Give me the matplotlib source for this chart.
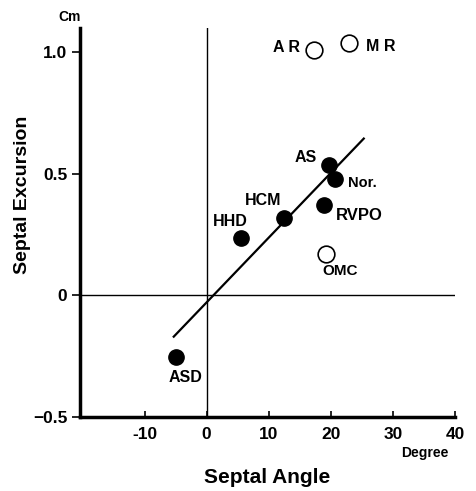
import matplotlib.pyplot as plt
import numpy as np

plt.rcParams['font.family'] = ['Liberation Sans', 'DejaVu Sans']
plt.rcParams['font.weight'] = 'bold'

# filled points (disease groups on the regression)
filled_names = ['AS', 'Nor.', 'RVPO', 'HCM', 'HHD', 'ASD']
filled_x = [19.7, 20.6, 18.9, 12.4, 5.6, -5.0]
filled_y = [0.535, 0.48, 0.37, 0.32, 0.235, -0.255]

# open points
open_names = ['A R', 'M R', 'OMC']
open_x = [17.3, 23.0, 19.2]
open_y = [1.01, 1.04, 0.17]

# regression line end points
line_x = [-5.3, 25.3]
line_y = [-0.17, 0.645]

xticks = [-10, 0, 10, 20, 30, 40]
yticks = [-0.5, 0, 0.5, 1.0]
ytick_labels = ['\u22120.5', '0', '0.5', '1.0']

fig = plt.figure(figsize=(4.76, 4.91), dpi=100)
ax = fig.add_axes([0.168, 0.151, 0.788, 0.792])

ax.set_xlim(-20.4, 40)
ax.set_ylim(-0.5, 1.1)

ax.axvline(0, color='black', lw=1.0)
ax.axhline(0, color='black', lw=1.0)

ax.plot(line_x, line_y, color='black', lw=1.6)
ax.plot(filled_x, filled_y, 'o', color='black', ms=11)
ax.plot(open_x, open_y, 'o', mfc='white', mec='black', mew=1.2, ms=12)

# label offsets in pixels (dx, dy), label centred
offsets = {'AS': (-23, 8), 'Nor.': (28, -4), 'RVPO': (35, -10), 'HCM': (-21, 17),
           'HHD': (-11, 17), 'ASD': (10, -20), 'A R': (-28, 2), 'M R': (31, -4),
           'OMC': (14, -17)}
sizes = {'AS': 11.5, 'Nor.': 10.5, 'RVPO': 12, 'HCM': 11.5, 'HHD': 11.5, 'ASD': 11.5,
         'A R': 11.5, 'M R': 11.5, 'OMC': 11}
for n, x, y in zip(filled_names + open_names, filled_x + open_x, filled_y + open_y):
    dx, dy = offsets[n]
    ax.annotate(n, (x, y), xytext=(dx * 0.72, dy * 0.72), textcoords='offset points',
                ha='center', va='center', fontsize=sizes[n], fontweight='bold')

ax.spines['top'].set_visible(False)
ax.spines['right'].set_visible(False)
ax.spines['left'].set_linewidth(2.5)
ax.spines['bottom'].set_linewidth(2.5)

ax.set_xticks(xticks)
ax.set_xticklabels([str(t) for t in xticks])
ax.set_yticks(yticks)
ax.set_yticklabels(ytick_labels)
ax.tick_params(axis='x', direction='in', length=4, width=1.2, labelsize=12.5, pad=7)
ax.tick_params(axis='y', direction='out', length=6, width=1.2, labelsize=12.5, pad=3)
for lab in ax.get_xticklabels() + ax.get_yticklabels():
    lab.set_fontweight('bold')

ax.set_xlabel('Septal Angle', fontsize=15, fontweight='bold', va='center')
ax.set_ylabel('Septal Excursion', fontsize=14, fontweight='bold', va='center')
ax.xaxis.set_label_coords(0.50, -0.157)
ax.yaxis.set_label_coords(-0.152, 0.571)

fig.text(0.147, 0.965, 'Cm', ha='center', va='center', fontsize=10, fontweight='bold')
fig.text(0.893, 0.077, 'Degree', ha='center', va='center', fontsize=10, fontweight='bold')

fig.savefig('out.png', dpi=100)
